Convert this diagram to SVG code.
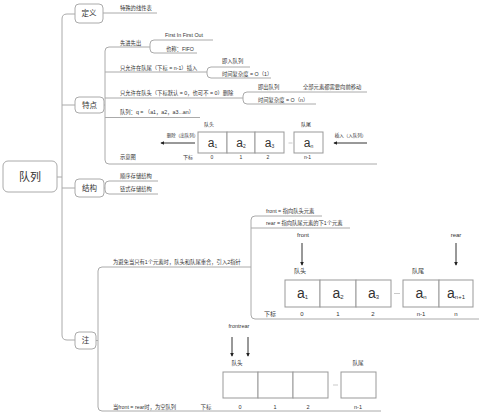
<svg xmlns="http://www.w3.org/2000/svg" width="500" height="419" viewBox="0 0 500 419">
<style>
text{font-family:"Liberation Sans","Noto Sans CJK SC",sans-serif;fill:#333}
.ln{stroke:#aaa;stroke-width:1;fill:none}
.nd{fill:#fff;stroke:#aaa;stroke-width:1}
.s{font-size:5.3px}
.m{text-anchor:middle}
.bx{fill:#fff;stroke:#999;stroke-width:1}
.ar{stroke:#333;stroke-width:1;fill:none;marker-end:url(#ah)}
.dt{stroke:#bbb;stroke-width:0.8}
</style>
<defs>
<marker id="ah" viewBox="0 0 6 6" refX="5" refY="3" markerWidth="4" markerHeight="4" orient="auto" markerUnits="userSpaceOnUse"><path d="M0,0 L6,3 L0,6 Z" fill="#222"/></marker>
</defs>
<g id="connectors">
<path class="ln" d="M75,14 H67 Q62,14 62,19 V335 Q62,340 67,340 H75"/>
<path class="ln" d="M57,177 H62 M62,105 H75 M62,188 H75"/>
<path class="ln" d="M103,13 H157"/>
<path class="ln" d="M104,105 H105"/>
<path class="ln" d="M150,47 H109 Q105,47 105,51 V160 Q105,164 109,164 H377"/>
<path class="ln" d="M213,40 H154 Q150,40 150,44 V49 Q150,53 154,53 H197"/>
<path class="ln" d="M105,72 H207"/>
<path class="ln" d="M250,67 H211 Q207,67 207,71 V74 Q207,78 211,78 H271"/>
<path class="ln" d="M105,98 H243"/>
<path class="ln" d="M367,92 H247 Q243,92 243,96 V100 Q243,104 247,104 H316"/>
<path class="ln" d="M105,117.5 H200"/>
<path class="ln" d="M104,188 H105"/>
<path class="ln" d="M158,181 H109 Q105,181 105,185 V190 Q105,194 109,194 H158"/>
<path class="ln" d="M96,340.5 H98"/>
<path class="ln" d="M251,267 H102 Q98,267 98,271 V407 Q98,411 102,411 H381"/>
<path class="ln" d="M322,216 H255 Q251,216 251,220 V315 Q251,319 255,319 H479"/>
<path class="ln" d="M251,228 H350"/>
</g>
<g id="root"><rect class="nd" x="3" y="161" width="54" height="31" rx="5"/><text x="30" y="180.5" class="m" font-size="11">队列</text></g>
<g id="n-def"><rect class="nd" x="75" y="4" width="28" height="19" rx="4"/><text x="89" y="16" class="m" font-size="7.5">定义</text></g>
<g id="n-feat"><rect class="nd" x="75" y="97" width="29" height="16" rx="4"/><text x="89.5" y="107.5" class="m" font-size="7.5">特点</text></g>
<g id="n-struct"><rect class="nd" x="75" y="179" width="29" height="18" rx="4"/><text x="89.5" y="190.5" class="m" font-size="7.5">结构</text></g>
<g id="n-note"><rect class="nd" x="75" y="332" width="21" height="17" rx="4"/><text x="85.5" y="343" class="m" font-size="7.5">注</text></g>
<g id="def-items"><text class="s" x="120" y="10">特殊的线性表</text></g>
<g id="feat-items">
<text class="s" x="120" y="45">先进先出</text>
<text class="s" x="165" y="37">First In First Out</text>
<text class="s" x="166" y="50.5">也称：FIFO</text>
<text class="s" x="120" y="69.5">只允许在队尾（下标 = n-1）插入</text>
<text class="s" x="222" y="63">即入队列</text>
<text class="s" x="222" y="75.5">时间复杂度 = O（1）</text>
<text class="s" x="120" y="95">只允许在队头（下标默认 = 0，也可不 = 0）删除</text>
<text class="s" x="258" y="88.5">即出队列</text>
<text class="s" x="303" y="88.5">全部元素都需要向前移动</text>
<text class="s" x="258" y="101.5">时间复杂度 = O（n）</text>
<text class="s" x="120" y="114">队列：q = （a1，a2，a3...an）</text>
<text class="s" x="120" y="159">示意图</text>
</g>
<g id="diagram1">
<text class="m" font-size="5" x="209" y="126">队头</text>
<text class="m" font-size="5" x="306" y="126">队尾</text>
<rect class="bx" x="198" y="132" width="29" height="21"/>
<rect class="bx" x="227" y="132" width="28" height="21"/>
<rect class="bx" x="255" y="132" width="29" height="21"/>
<rect class="bx" x="294" y="132" width="29" height="21"/>
<line class="dt" x1="288.5" y1="143" x2="292.5" y2="143"/>
<text class="m" font-size="12" x="212.5" y="146.5">a<tspan font-size="5" dy="1">1</tspan></text>
<text class="m" font-size="12" x="241" y="146.5">a<tspan font-size="5" dy="1">2</tspan></text>
<text class="m" font-size="12" x="269.5" y="146.5">a<tspan font-size="5" dy="1">3</tspan></text>
<text class="m" font-size="12" x="308.5" y="146.5">a<tspan font-size="5" dy="1">n</tspan></text>
<text class="m" font-size="4.5" x="182.5" y="137">删除（出队列）</text>
<line class="ar" x1="195" y1="143" x2="161" y2="143"/>
<text class="m" font-size="4.5" x="350.5" y="137">插入（入队列）</text>
<line class="ar" x1="367" y1="143" x2="334" y2="143"/>
<text class="m" font-size="5" x="188" y="159">下标</text>
<text class="m" font-size="5" x="212" y="159">0</text>
<text class="m" font-size="5" x="241" y="159">1</text>
<text class="m" font-size="5" x="268" y="159">2</text>
<text class="m" font-size="5" x="307.5" y="159">n-1</text>
</g>
<g id="struct-items">
<text class="s" x="120" y="178">顺序存储结构</text>
<text class="s" x="120" y="191">链式存储结构</text>
</g>
<g id="note-items">
<text class="s" x="113" y="264">为避免当只有1个元素时，队头和队尾重合，引入2指针</text>
<text class="s" x="266" y="212.5">front = 指向队头元素</text>
<text class="s" x="266" y="225">rear = 指向队尾元素的下1个元素</text>
<text class="s" x="113" y="408.5">当front = rear时，为空队列</text>
</g>
<g id="diagram2">
<text class="m" font-size="6" x="303" y="237">front</text>
<text class="m" font-size="6" x="456" y="237">rear</text>
<line class="ar" x1="302" y1="243" x2="302" y2="265"/>
<line class="ar" x1="456" y1="243" x2="456" y2="265"/>
<text class="m" font-size="6" x="300" y="273">队头</text>
<text class="m" font-size="6" x="418" y="273">队尾</text>
<rect class="bx" x="285" y="280" width="35" height="27"/>
<rect class="bx" x="320" y="280" width="36" height="27"/>
<rect class="bx" x="356" y="280" width="35" height="27"/>
<rect class="bx" x="403" y="280" width="36" height="27"/>
<rect class="bx" x="439" y="280" width="34" height="27"/>
<line class="dt" x1="394" y1="293.5" x2="400" y2="293.5"/>
<text class="m" font-size="14" x="302.5" y="298">a<tspan font-size="6" dy="1">1</tspan></text>
<text class="m" font-size="14" x="338" y="298">a<tspan font-size="6" dy="1">2</tspan></text>
<text class="m" font-size="14" x="373.5" y="298">a<tspan font-size="6" dy="1">3</tspan></text>
<text class="m" font-size="14" x="421" y="298">a<tspan font-size="6" dy="1">n</tspan></text>
<text class="m" font-size="14" x="456" y="298">a<tspan font-size="6" dy="1">n+1</tspan></text>
<text class="m" font-size="6" x="270" y="316">下标</text>
<text class="m" font-size="6" x="302" y="316">0</text>
<text class="m" font-size="6" x="338" y="316">1</text>
<text class="m" font-size="6" x="373" y="316">2</text>
<text class="m" font-size="6" x="421" y="316">n-1</text>
<text class="m" font-size="6" x="456" y="316">n</text>
</g>
<g id="diagram3">
<text class="m" font-size="5.5" x="239" y="328">frontrear</text>
<line class="ar" x1="232" y1="337" x2="232" y2="356"/>
<line class="ar" x1="248" y1="337" x2="248" y2="356"/>
<text class="m" font-size="5.5" x="237" y="365">队头</text>
<text class="m" font-size="5.5" x="358" y="365">队尾</text>
<rect class="bx" x="223" y="372" width="35" height="26"/>
<rect class="bx" x="258" y="372" width="35" height="26"/>
<rect class="bx" x="293" y="372" width="35" height="26"/>
<rect class="bx" x="341" y="372" width="35" height="26"/>
<line class="dt" x1="333" y1="385" x2="338" y2="385"/>
<text class="m" font-size="5.5" x="206" y="409">下标</text>
<text class="m" font-size="5.5" x="240" y="409">0</text>
<text class="m" font-size="5.5" x="275" y="409">1</text>
<text class="m" font-size="5.5" x="308" y="409">2</text>
<text class="m" font-size="5.5" x="358" y="409">n-1</text>
</g>
</svg>
